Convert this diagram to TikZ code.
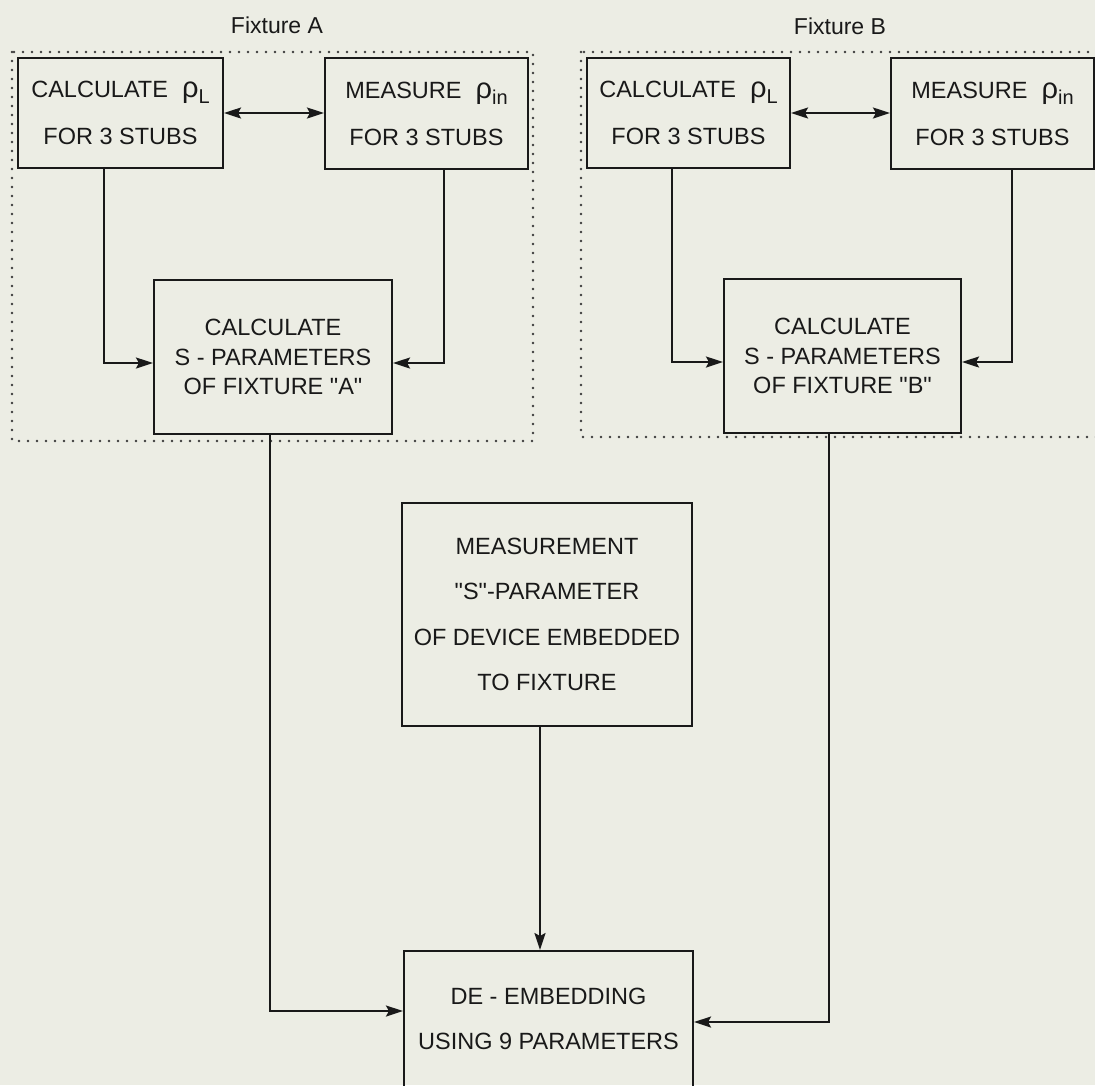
\documentclass[tikz,border=0pt]{standalone}
\usepackage{fontspec}
\setmainfont{Liberation Sans}[Ligatures=TeXOff]
\usetikzlibrary{arrows.meta}
\definecolor{bgc}{RGB}{236,237,228}
\definecolor{ink}{RGB}{25,25,25}
\newcommand{\rhosub}[1]{{\fontsize{29}{29}\selectfont ρ}\raisebox{-6pt}{\fontsize{20}{20}\selectfont #1}}
\begin{document}
\begin{tikzpicture}[x=1pt,y=-1pt,
  box/.style={draw=ink, line width=2.1pt, rectangle, inner sep=0pt, align=center, text=ink, font=\fontsize{23.5}{47}\selectfont},
  arr/.style={draw=ink, line width=2pt, -{Stealth[length=17pt,width=11pt,inset=3pt]}},
  arrboth/.style={draw=ink, line width=2pt, {Stealth[length=17pt,width=11pt,inset=3pt]}-{Stealth[length=17pt,width=11pt,inset=3pt]}},
  dots/.style={draw=ink!85, line width=2.6pt, line cap=round, dash pattern=on 0pt off 9pt},
  lbl/.style={text=ink, font=\fontsize{23}{23}\selectfont}]
\fill[bgc] (0,0) rectangle (1095,1085);
\useasboundingbox (0,0) rectangle (1095,1085);
\clip (0,0) rectangle (1095,1085);
% group labels
\node[lbl] (fa) at (277,25) {Fixture A};
\node[lbl] (fb) at (840,26) {Fixture B};
% dotted group frames
\draw[dots] (12,52) rectangle (533,441);
\draw[dots] (581,52) rectangle (1120,437);
% fixture A
\node[box, minimum width=205pt, minimum height=110pt] (cA) at (120.5,113) {CALCULATE\hspace{14pt}\rhosub{L}\\FOR 3 STUBS};
\node[box, minimum width=203pt, minimum height=111pt] (mA) at (426.5,113.5) {MEASURE\hspace{14pt}\rhosub{in}\\FOR 3 STUBS};
\node[box, minimum width=238pt, minimum height=154pt, font=\fontsize{23.5}{29.5}\selectfont] (sA) at (273,357) {CALCULATE\\S - PARAMETERS\\OF FIXTURE "A"};
% fixture B
\node[box, minimum width=203pt, minimum height=110pt] (cB) at (688.5,113) {CALCULATE\hspace{14pt}\rhosub{L}\\FOR 3 STUBS};
\node[box, minimum width=203pt, minimum height=111pt] (mB) at (992.5,113.5) {MEASURE\hspace{14pt}\rhosub{in}\\FOR 3 STUBS};
\node[box, minimum width=237pt, minimum height=154pt, font=\fontsize{23.5}{29.5}\selectfont] (sB) at (842.5,356) {CALCULATE\\S - PARAMETERS\\OF FIXTURE "B"};
% measurement
\node[box, minimum width=290pt, minimum height=223pt, font=\fontsize{23.5}{45.5}\selectfont] (meas) at (547,614.5) {MEASUREMENT\\"S"-PARAMETER\\OF DEVICE EMBEDDED\\TO FIXTURE};
% de-embedding
\node[box, anchor=north, minimum width=289pt, minimum height=180pt, font=\fontsize{23.5}{45}\selectfont] (de) at (548.5,950) {DE - EMBEDDING\\USING 9 PARAMETERS\\\mbox{}};
% connectors
\draw[arrboth] (cA.east) -- (cA.east -| mA.west);
\draw[arrboth] (cB.east) -- (cB.east -| mB.west);
\draw[arr] ([xshift=-17pt]cA.south) |- ([yshift=-6pt]sA.west);
\draw[arr] ([xshift=17.5pt]mA.south) |- ([yshift=-6pt]sA.east);
\draw[arr] ([xshift=-16.5pt]cB.south) |- ([yshift=-6pt]sB.west);
\draw[arr] ([xshift=19.5pt]mB.south) |- ([yshift=-6pt]sB.east);
\draw[arr] ([xshift=-3pt]sA.south) |- ([yshift=-61pt]de.north west);
\draw[arr] ([xshift=-13.5pt]sB.south) |- ([yshift=-72pt]de.north east);
\draw[arr] ([xshift=-7pt]meas.south) -- ([xshift=-8.5pt]de.north);
\end{tikzpicture}
\end{document}
